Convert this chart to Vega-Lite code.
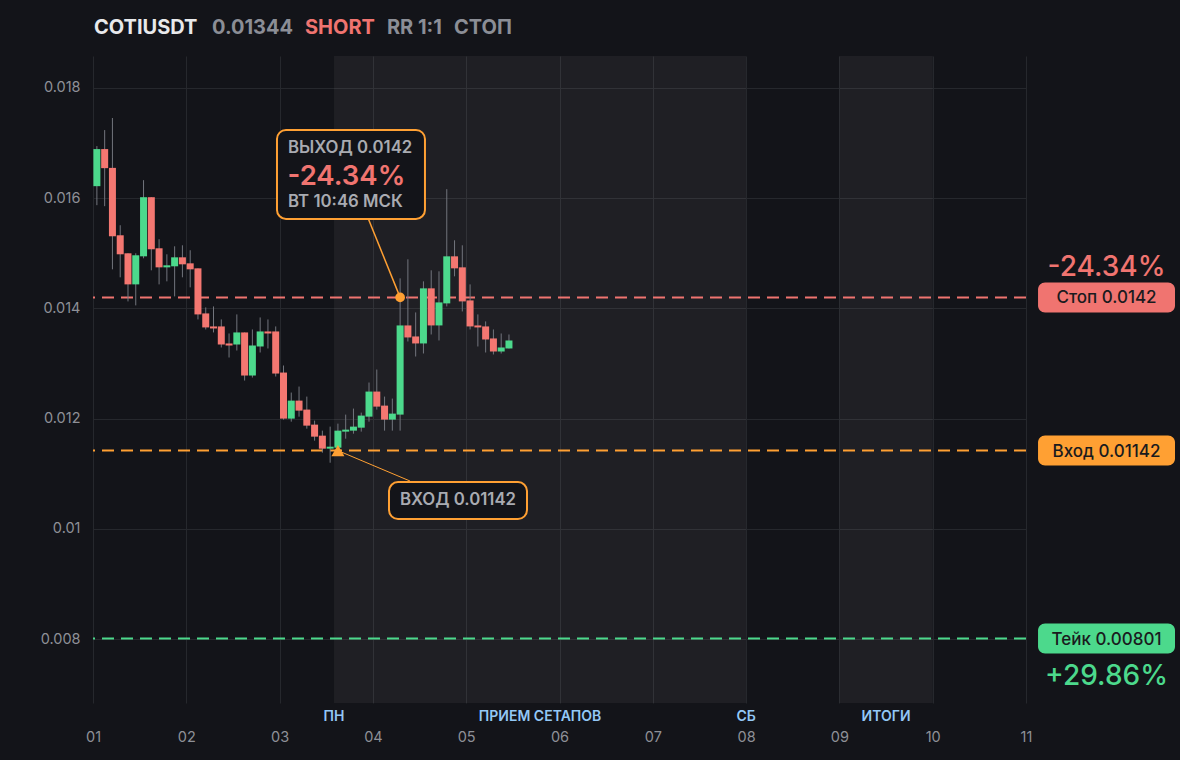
{
  "$schema": "https://vega.github.io/schema/vega-lite/v6.json",
  "width": 933,
  "height": 647,
  "autosize": {"type": "none"},
  "padding": {"left": 93, "top": 56, "right": 154, "bottom": 57},
  "background": "#131419",
  "config": {
    "view": {"stroke": null},
    "font": "Inter",
    "scale": {"continuousPadding": 0},
    "axis": {"domain": false, "ticks": false, "labelFlush": false, "gridColor": "#26282d", "gridWidth": 1, "labelColor": "#8e9097", "labelFont": "Inter", "labelFontSize": 14.5}
  },
  "datasets": {
    "candles": [
      {"t": 1.0417, "o": 0.016218, "h": 0.016945, "l": 0.015873, "c": 0.016891},
      {"t": 1.125, "o": 0.016891, "h": 0.017236, "l": 0.015855, "c": 0.016545},
      {"t": 1.2083, "o": 0.01655, "h": 0.017455, "l": 0.014709, "c": 0.015309},
      {"t": 1.2917, "o": 0.015327, "h": 0.015509, "l": 0.014564, "c": 0.014982},
      {"t": 1.375, "o": 0.015, "h": 0.015, "l": 0.014127, "c": 0.014436},
      {"t": 1.4583, "o": 0.014436, "h": 0.015, "l": 0.014055, "c": 0.014964},
      {"t": 1.5417, "o": 0.014945, "h": 0.016327, "l": 0.014909, "c": 0.016018},
      {"t": 1.625, "o": 0.016018, "h": 0.016018, "l": 0.014691, "c": 0.015073},
      {"t": 1.7083, "o": 0.015091, "h": 0.015255, "l": 0.014436, "c": 0.014745},
      {"t": 1.7917, "o": 0.014745, "h": 0.014982, "l": 0.014491, "c": 0.014782},
      {"t": 1.875, "o": 0.014764, "h": 0.015127, "l": 0.014218, "c": 0.014927},
      {"t": 1.9583, "o": 0.014927, "h": 0.015145, "l": 0.014564, "c": 0.0148},
      {"t": 2.0417, "o": 0.014818, "h": 0.015055, "l": 0.014382, "c": 0.014709},
      {"t": 2.125, "o": 0.014727, "h": 0.014727, "l": 0.0138, "c": 0.013891},
      {"t": 2.2083, "o": 0.013909, "h": 0.014018, "l": 0.013618, "c": 0.013655},
      {"t": 2.2917, "o": 0.013673, "h": 0.014036, "l": 0.013564, "c": 0.013636},
      {"t": 2.375, "o": 0.013673, "h": 0.0138, "l": 0.013291, "c": 0.013345},
      {"t": 2.4583, "o": 0.013364, "h": 0.013545, "l": 0.013109, "c": 0.013327},
      {"t": 2.5417, "o": 0.013345, "h": 0.013891, "l": 0.013236, "c": 0.013564},
      {"t": 2.625, "o": 0.013564, "h": 0.013564, "l": 0.012691, "c": 0.012782},
      {"t": 2.7083, "o": 0.012782, "h": 0.013618, "l": 0.012745, "c": 0.013327},
      {"t": 2.7917, "o": 0.013309, "h": 0.013836, "l": 0.0132, "c": 0.013582},
      {"t": 2.875, "o": 0.013582, "h": 0.0138, "l": 0.013273, "c": 0.013545},
      {"t": 2.9583, "o": 0.013582, "h": 0.013673, "l": 0.012764, "c": 0.012818},
      {"t": 3.0417, "o": 0.012836, "h": 0.012964, "l": 0.011982, "c": 0.012},
      {"t": 3.125, "o": 0.012, "h": 0.012473, "l": 0.011945, "c": 0.012327},
      {"t": 3.2083, "o": 0.012327, "h": 0.012582, "l": 0.012036, "c": 0.012145},
      {"t": 3.2917, "o": 0.012164, "h": 0.0124, "l": 0.011818, "c": 0.011873},
      {"t": 3.375, "o": 0.011891, "h": 0.011964, "l": 0.0116, "c": 0.011673},
      {"t": 3.4583, "o": 0.011691, "h": 0.011782, "l": 0.011382, "c": 0.011455},
      {"t": 3.5417, "o": 0.011455, "h": 0.011855, "l": 0.0112, "c": 0.011491},
      {"t": 3.625, "o": 0.011473, "h": 0.011909, "l": 0.011455, "c": 0.011782},
      {"t": 3.7083, "o": 0.011764, "h": 0.012073, "l": 0.011636, "c": 0.0118},
      {"t": 3.7917, "o": 0.011782, "h": 0.012182, "l": 0.011727, "c": 0.011855},
      {"t": 3.875, "o": 0.011836, "h": 0.012109, "l": 0.011764, "c": 0.012055},
      {"t": 3.9583, "o": 0.012036, "h": 0.012655, "l": 0.011945, "c": 0.012491},
      {"t": 4.0417, "o": 0.012491, "h": 0.012891, "l": 0.012164, "c": 0.012218},
      {"t": 4.125, "o": 0.012236, "h": 0.0124, "l": 0.011782, "c": 0.011982},
      {"t": 4.2083, "o": 0.011982, "h": 0.012364, "l": 0.011782, "c": 0.012091},
      {"t": 4.2917, "o": 0.012073, "h": 0.014545, "l": 0.011782, "c": 0.013691},
      {"t": 4.375, "o": 0.013691, "h": 0.014891, "l": 0.0134, "c": 0.013473},
      {"t": 4.4583, "o": 0.013491, "h": 0.013927, "l": 0.013127, "c": 0.013364},
      {"t": 4.5417, "o": 0.013364, "h": 0.014491, "l": 0.013182, "c": 0.014364},
      {"t": 4.625, "o": 0.014364, "h": 0.014691, "l": 0.013527, "c": 0.013691},
      {"t": 4.7083, "o": 0.013691, "h": 0.014673, "l": 0.013418, "c": 0.014109},
      {"t": 4.7917, "o": 0.014091, "h": 0.016164, "l": 0.014036, "c": 0.014945},
      {"t": 4.875, "o": 0.014945, "h": 0.015236, "l": 0.014582, "c": 0.014727},
      {"t": 4.9583, "o": 0.014745, "h": 0.015145, "l": 0.013945, "c": 0.014127},
      {"t": 5.0417, "o": 0.014145, "h": 0.014436, "l": 0.013618, "c": 0.013673},
      {"t": 5.125, "o": 0.013691, "h": 0.013891, "l": 0.013309, "c": 0.013655},
      {"t": 5.2083, "o": 0.013673, "h": 0.013764, "l": 0.0132, "c": 0.013436},
      {"t": 5.2917, "o": 0.013455, "h": 0.013618, "l": 0.013164, "c": 0.013218},
      {"t": 5.375, "o": 0.013218, "h": 0.013545, "l": 0.013182, "c": 0.013291},
      {"t": 5.4583, "o": 0.013273, "h": 0.013527, "l": 0.013273, "c": 0.013418}
    ],
    "bands": [
      {"start": 3.5833, "end": 8},
      {"start": 9, "end": 10}
    ],
    "bandLabels": [
      {"pos": 3.5833, "label": "ПН"},
      {"pos": 5.7917, "label": "ПРИЕМ СЕТАПОВ"},
      {"pos": 8, "label": "СБ"},
      {"pos": 9.5, "label": "ИТОГИ"}
    ],
    "levels": [
      {"kind": "stop", "price": 0.0142, "label": "Стоп 0.0142", "pct": "-24.34%"},
      {"kind": "entry", "price": 0.01142, "label": "Вход 0.01142", "pct": ""},
      {"kind": "take", "price": 0.00801, "label": "Тейк 0.00801", "pct": "+29.86%"}
    ],
    "header": [
      {"part": "sym", "pos": 1.0107, "text": "COTIUSDT"},
      {"part": "price", "pos": 2.2755, "text": "0.01344"},
      {"part": "side", "pos": 3.2722, "text": "SHORT"},
      {"part": "rr", "pos": 4.151, "text": "RR 1:1"},
      {"part": "status", "pos": 4.869, "text": "СТОП"}
    ],
    "one": [{}]
  },
  "layer": [
    {
      "data": {"name": "bands"},
      "mark": {"type": "rect", "fill": "#ffffff", "opacity": 0.05},
      "encoding": {
        "x": {"field": "start", "type": "quantitative", "title": null,
          "scale": {"domain": [1, 11], "nice": false, "zero": false, "padding": 0},
          "axis": {"values": [1, 2, 3, 4, 5, 6, 7, 8, 9, 10, 11], "labelExpr": "(datum.value < 10 ? '0' : '') + datum.value", "labelPadding": 27, "labelFlush": false, "grid": true}},
        "x2": {"field": "end"},
        "y": {"datum": 0.00684, "type": "quantitative", "title": null,
          "scale": {"domain": [0.00684, 0.01858], "nice": false, "zero": false, "padding": 0},
          "axis": {"values": [0.008, 0.01, 0.012, 0.014, 0.016, 0.018], "format": "~g", "labelPadding": 13, "labelFlush": false, "grid": true}},
        "y2": {"datum": 0.01858}
      }
    },
    {
      "data": {"name": "bandLabels"},
      "mark": {"type": "text", "color": "#93c8f6", "fontSize": 14, "fontWeight": 600, "baseline": "middle", "align": "center"},
      "encoding": {
        "x": {"field": "pos", "type": "quantitative", "title": null},
        "y": {"datum": 0.006584, "type": "quantitative", "title": null},
        "text": {"field": "label"}
      }
    },
    {
      "data": {"name": "levels"},
      "mark": {"type": "rule", "strokeWidth": 2, "strokeDash": [12, 7]},
      "encoding": {
        "y": {"field": "price", "type": "quantitative", "title": null},
        "color": {"field": "kind", "type": "nominal", "legend": null,
          "scale": {"domain": ["stop", "entry", "take", "sym", "price", "side", "rr", "status"], "range": ["#f07470", "#ffa033", "#4cd98c", "#e8e9eb", "#8b8e96", "#f07470", "#8b8e96", "#8b8e96"]}}
      }
    },
    {
      "data": {"name": "candles"},
      "mark": {"type": "rule", "color": "#72757d", "strokeWidth": 1},
      "encoding": {
        "x": {"field": "t", "type": "quantitative", "title": null},
        "y": {"field": "l", "type": "quantitative", "title": null},
        "y2": {"field": "h"}
      }
    },
    {
      "data": {"name": "candles"},
      "mark": {"type": "bar", "size": 7},
      "encoding": {
        "x": {"field": "t", "type": "quantitative", "title": null},
        "y": {"field": "o", "type": "quantitative", "title": null},
        "y2": {"field": "c"},
        "color": {"condition": {"test": "datum.c >= datum.o", "value": "#4cd98c"}, "value": "#f47771"}
      }
    },
    {
      "data": {"name": "one"},
      "mark": {"type": "rule", "color": "#ffa033", "strokeWidth": 1.5},
      "encoding": {
        "x": {"datum": 3.9475, "type": "quantitative", "title": null},
        "y": {"datum": 0.015641, "type": "quantitative", "title": null},
        "x2": {"datum": 4.2917},
        "y2": {"datum": 0.0142}
      }
    },
    {
      "data": {"name": "one"},
      "mark": {"type": "rule", "color": "#ffa033", "strokeWidth": 1},
      "encoding": {
        "x": {"datum": 3.625, "type": "quantitative", "title": null},
        "y": {"datum": 0.01142, "type": "quantitative", "title": null},
        "x2": {"datum": 4.3976},
        "y2": {"datum": 0.010868}
      }
    },
    {
      "data": {"name": "one"},
      "mark": {"type": "rect", "fill": "#131419", "stroke": "#ffa033", "strokeWidth": 2, "cornerRadius": 9},
      "encoding": {
        "x": {"datum": 2.972, "type": "quantitative", "title": null},
        "x2": {"datum": 4.558},
        "y": {"datum": 0.017238, "type": "quantitative", "title": null},
        "y2": {"datum": 0.015623}
      }
    },
    {
      "data": {"name": "one"},
      "mark": {"type": "text", "text": "ВЫХОД 0.0142", "color": "#a9abb1", "fontSize": 16.8, "fontWeight": 600, "align": "left", "baseline": "middle"},
      "encoding": {
        "x": {"datum": 3.09, "type": "quantitative", "title": null},
        "y": {"datum": 0.016911, "type": "quantitative", "title": null}
      }
    },
    {
      "data": {"name": "one"},
      "mark": {"type": "text", "text": "-24.34%", "color": "#f07470", "fontSize": 27.5, "fontWeight": 600, "align": "left", "baseline": "middle"},
      "encoding": {
        "x": {"datum": 3.085, "type": "quantitative", "title": null},
        "y": {"datum": 0.016385, "type": "quantitative", "title": null}
      }
    },
    {
      "data": {"name": "one"},
      "mark": {"type": "text", "text": "ВТ 10:46 МСК", "color": "#a9abb1", "fontSize": 16.8, "fontWeight": 600, "align": "left", "baseline": "middle"},
      "encoding": {
        "x": {"datum": 3.09, "type": "quantitative", "title": null},
        "y": {"datum": 0.015931, "type": "quantitative", "title": null}
      }
    },
    {
      "data": {"name": "one"},
      "mark": {"type": "rect", "fill": "#131419", "stroke": "#ffa033", "strokeWidth": 2, "cornerRadius": 9},
      "encoding": {
        "x": {"datum": 4.1726, "type": "quantitative", "title": null},
        "x2": {"datum": 5.6516},
        "y": {"datum": 0.010849, "type": "quantitative", "title": null},
        "y2": {"datum": 0.010178}
      }
    },
    {
      "data": {"name": "one"},
      "mark": {"type": "text", "text": "ВХОД 0.01142", "color": "#a9abb1", "fontSize": 16.8, "fontWeight": 600, "align": "center", "baseline": "middle"},
      "encoding": {
        "x": {"datum": 4.912, "type": "quantitative", "title": null},
        "y": {"datum": 0.010523, "type": "quantitative", "title": null}
      }
    },
    {
      "data": {"name": "one"},
      "mark": {"type": "point", "shape": "circle", "filled": true, "color": "#ffa033", "opacity": 1, "size": 95},
      "encoding": {
        "x": {"datum": 4.2917, "type": "quantitative", "title": null},
        "y": {"datum": 0.0142, "type": "quantitative", "title": null}
      }
    },
    {
      "data": {"name": "one"},
      "mark": {"type": "point", "shape": "triangle-up", "filled": true, "color": "#ffa033", "opacity": 1, "size": 170},
      "encoding": {
        "x": {"datum": 3.625, "type": "quantitative", "title": null},
        "y": {"datum": 0.01142, "type": "quantitative", "title": null}
      }
    },
    {
      "data": {"name": "levels"},
      "mark": {"type": "bar", "orient": "horizontal", "size": 30, "cornerRadius": 7},
      "encoding": {
        "x": {"datum": 11.129, "type": "quantitative", "title": null},
        "x2": {"datum": 12.597},
        "y": {"field": "price", "type": "quantitative", "title": null},
        "color": {"field": "kind", "type": "nominal", "legend": null}
      }
    },
    {
      "data": {"name": "levels"},
      "mark": {"type": "text", "color": "#1a1b1e", "fontSize": 17, "fontWeight": 500, "align": "center", "baseline": "middle", "dy": 1},
      "encoding": {
        "x": {"datum": 11.863, "type": "quantitative", "title": null},
        "y": {"field": "price", "type": "quantitative", "title": null},
        "text": {"field": "label"}
      }
    },
    {
      "data": {"name": "levels"},
      "transform": [{"filter": "datum.kind == 'stop'"}],
      "mark": {"type": "text", "fontSize": 28, "fontWeight": 500, "align": "center", "baseline": "middle", "dy": -29},
      "encoding": {
        "x": {"datum": 11.863, "type": "quantitative", "title": null},
        "y": {"field": "price", "type": "quantitative", "title": null},
        "text": {"field": "pct"},
        "color": {"field": "kind", "type": "nominal", "legend": null}
      }
    },
    {
      "data": {"name": "levels"},
      "transform": [{"filter": "datum.kind == 'take'"}],
      "mark": {"type": "text", "fontSize": 28, "fontWeight": 500, "align": "center", "baseline": "middle", "dy": 38},
      "encoding": {
        "x": {"datum": 11.863, "type": "quantitative", "title": null},
        "y": {"field": "price", "type": "quantitative", "title": null},
        "text": {"field": "pct"},
        "color": {"field": "kind", "type": "nominal", "legend": null}
      }
    },
    {
      "data": {"name": "header"},
      "mark": {"type": "text", "fontSize": 20, "fontWeight": 700, "align": "left", "baseline": "middle"},
      "encoding": {
        "x": {"field": "pos", "type": "quantitative", "title": null},
        "y": {"datum": 0.019089, "type": "quantitative", "title": null},
        "text": {"field": "text"},
        "color": {"field": "part", "type": "nominal", "legend": null}
      }
    }
  ]
}
